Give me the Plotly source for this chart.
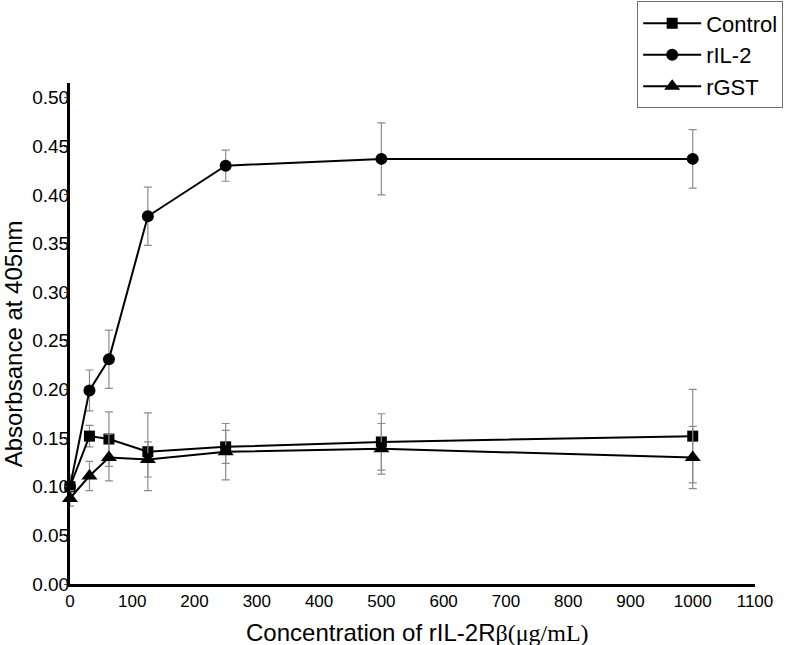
import plotly.graph_objects as go

# concentrations of rIL-2Rβ (μg/mL)
conc = [0, 31.25, 62.5, 125, 250, 500, 1000]

control = [0.100, 0.152, 0.149, 0.136, 0.141, 0.146, 0.152]
control_err = [0.010, 0.011, 0.028, 0.040, 0.017, 0.029, 0.048]

ril2 = [0.100, 0.199, 0.231, 0.378, 0.430, 0.437, 0.437]
ril2_err = [0.012, 0.021, 0.030, 0.030, 0.016, 0.037, 0.030]

rgst = [0.088, 0.111, 0.130, 0.128, 0.136, 0.139, 0.130]
rgst_err = [0.008, 0.015, 0.024, 0.018, 0.029, 0.026, 0.032]

x_ticks = list(range(0, 1101, 100))
y_ticks = [i * 0.05 for i in range(11)]

series = [
    ("Control", control, control_err, "square", 11),
    ("rIL-2", ril2, ril2_err, "circle", 12),
    ("rGST", rgst, rgst_err, "triangle-up", 14),
]

fig = go.Figure()
for name, vals, errs, sym, size in series:
    fig.add_trace(
        go.Scatter(
            x=conc,
            y=vals,
            name=name,
            mode="lines+markers",
            line=dict(color="black", width=2),
            marker=dict(symbol=sym, size=size, color="black"),
            error_y=dict(
                type="data",
                array=errs,
                visible=True,
                color="#8c8c8c",
                thickness=1.2,
                width=4,
            ),
            cliponaxis=False,
        )
    )

fig.update_layout(
    width=787,
    height=645,
    plot_bgcolor="white",
    paper_bgcolor="white",
    margin=dict(l=70, r=32, t=83, b=61, autoexpand=False),
    font=dict(family="Liberation Sans, Arial, sans-serif", color="black"),
    showlegend=True,
    legend=dict(
        x=0.828,
        y=1.163,
        xanchor="left",
        yanchor="top",
        bordercolor="#707070",
        borderwidth=1,
        bgcolor="white",
        font=dict(size=22),
        tracegroupgap=0,
        itemwidth=58,
    ),
)

fig.update_xaxes(
    range=[0, 1100],
    tickvals=x_ticks,
    ticktext=[str(v) for v in x_ticks],
    showgrid=False,
    zeroline=False,
    showline=True,
    linecolor="black",
    linewidth=3,
    ticks="",
    tickfont=dict(size=17),
)
fig.update_yaxes(
    range=[0, 0.515],
    tickvals=y_ticks,
    ticktext=["%.2f" % v for v in y_ticks],
    showgrid=False,
    zeroline=False,
    showline=True,
    linecolor="black",
    linewidth=3,
    ticks="outside",
    ticklen=3,
    tickwidth=1,
    tickcolor="#555",
    ticklabelstandoff=-9,
    tickfont=dict(size=19),
)

fig.add_annotation(
    text="Absorbsance at 405nm",
    xref="paper",
    yref="paper",
    x=-0.082,
    y=0.48,
    xanchor="center",
    yanchor="middle",
    textangle=-90,
    showarrow=False,
    font=dict(size=24),
)
fig.add_annotation(
    text='Concentration of rIL-2R<span style="font-family:Liberation Serif, Times New Roman, serif">β(μg/mL)</span>',
    xref="paper",
    yref="paper",
    x=0.507,
    y=-0.096,
    xanchor="center",
    yanchor="middle",
    showarrow=False,
    font=dict(size=24),
)

# drop the page's default body margin so the figure sits at the window's corner
fig.write_html(
    "out.html",
    config={"displayModeBar": False},
    post_script="document.body.style.margin='0';",
)
